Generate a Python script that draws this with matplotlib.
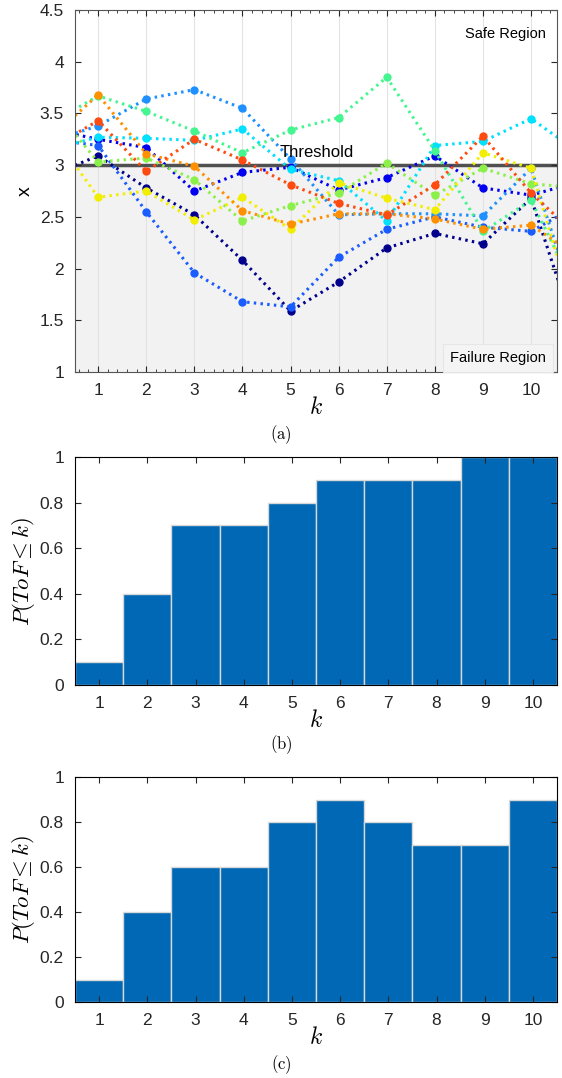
import numpy as np
import matplotlib
matplotlib.use('Agg')
import matplotlib.pyplot as plt
from matplotlib.ticker import MultipleLocator

plt.rcParams['font.family'] = ['Liberation Sans', 'DejaVu Sans']
plt.rcParams['mathtext.fontset'] = 'cm'

# trajectories, k = 0..11 (k=0 and k=11 lie just outside the visible range)
k_traj = np.arange(0, 12)
x_navy   = [2.90, 3.09, 2.78, 2.52, 2.08, 1.59, 1.87, 2.20, 2.34, 2.24, 2.68, 1.27]
x_blue   = [3.35, 3.25, 3.17, 2.75, 2.93, 2.98, 2.76, 2.88, 3.09, 2.78, 2.71, 2.84]
x_azure  = [3.25, 3.19, 2.55, 1.96, 1.68, 1.63, 2.11, 2.38, 2.50, 2.40, 2.36, 2.62]
x_dodger = [3.23, 3.38, 3.64, 3.73, 3.55, 3.06, 2.52, 2.53, 2.53, 2.51, 2.97, 1.54]
x_cyan   = [3.15, 3.27, 3.26, 3.24, 3.35, 2.96, 2.85, 2.46, 3.19, 3.23, 3.45, 3.12]
x_spring = [3.40, 3.67, 3.52, 3.33, 3.12, 3.34, 3.46, 3.85, 3.14, 2.36, 2.66, 1.72]
x_lgreen = [3.59, 3.03, 3.07, 2.86, 2.46, 2.61, 2.73, 3.02, 2.71, 2.97, 2.82, 2.78]
x_yellow = [3.34, 2.69, 2.75, 2.47, 2.69, 2.38, 2.83, 2.68, 2.57, 3.12, 2.97, 1.40]
x_orange = [3.26, 3.68, 3.11, 2.99, 2.56, 2.43, 2.53, 2.53, 2.48, 2.38, 2.42, 2.11]
x_red    = [3.16, 3.43, 2.94, 3.25, 3.05, 2.81, 2.63, 2.52, 2.81, 3.28, 2.73, 2.30]

trajs = [x_navy, x_blue, x_azure, x_dodger, x_cyan,
         x_spring, x_lgreen, x_yellow, x_orange, x_red]
cols = ['#00008c', '#0000f0', '#1a5cff', '#1e90ff', '#00e0ff',
        '#45f590', '#8cf04a', '#f2ee00', '#ff9000', '#ff4a10']
threshold = 3.0

# bar data
k = np.arange(1, 11)
p_b = [0.1, 0.4, 0.7, 0.7, 0.8, 0.9, 0.9, 0.9, 1.0, 1.0]
p_c = [0.1, 0.4, 0.6, 0.6, 0.8, 0.9, 0.8, 0.7, 0.7, 0.9]

fig = plt.figure(figsize=(5.62, 10.78), dpi=100)
ax1 = fig.add_axes([0.1335, 0.6549, 0.8577, 0.3358])
ax2 = fig.add_axes([0.1335, 0.3646, 0.8577, 0.2115])
ax3 = fig.add_axes([0.1335, 0.0705, 0.8577, 0.2087])

# (a)
ax1.axhspan(1, threshold, color='#f2f2f2', zorder=0)
for xv in k:
    ax1.axvline(xv, color='#e2e2e2', lw=0.8, zorder=0.5)
ax1.axhline(threshold, color='#505050', lw=2.5, zorder=1)
for tr, c in zip(trajs, cols):
    ax1.plot(k_traj, tr, color=c, ls=(0, (0.8, 1.4)), lw=2.2,
             marker='o', ms=5, markevery=list(range(1, 11)), zorder=2)
ax1.text(5.55, 3.05, 'Threshold', fontsize=12, ha='center', va='bottom', zorder=3)
ax1.text(10.3, 4.27, 'Safe Region', fontsize=10.5, ha='right', va='center')
ax1.text(10.3, 1.14, 'Failure Region', fontsize=10.5, ha='right', va='center',
         bbox=dict(facecolor='#f4f4f4', edgecolor='#e6e6e6', lw=0.8, pad=5))
ax1.set_xlim(0.52, 10.54)
ax1.set_ylim(1, 4.5)
ax1.set_xticks(k)
ax1.set_yticks(np.arange(1, 4.51, 0.5))
ax1.set_yticklabels(['1', '1.5', '2', '2.5', '3', '3.5', '4', '4.5'])
ax1.xaxis.set_minor_locator(MultipleLocator(0.2))
ax1.tick_params(which='both', direction='in', top=True, right=True,
                labelsize=12.5, colors='#262626', pad=8)
ax1.tick_params(which='major', length=4)
ax1.tick_params(which='minor', length=2)
for s in ax1.spines.values():
    s.set_color('#555555')
ax1.set_ylabel('x', fontsize=14, labelpad=4)
ax1.set_xlabel('$k$', fontsize=17, labelpad=-1)
fig.text(0.5, 0.5964, r'$\mathrm{(a)}$', fontsize=12, ha='center', va='center')

# (b) and (c)
for ax, p, cap, yc in [(ax2, p_b, '(b)', 0.3088), (ax3, p_c, '(c)', 0.0121)]:
    ax.bar(k, p, width=1.0, color='#0068b5', edgecolor='#d8d8d8', lw=1.0)
    ax.set_xlim(0.5, 10.5)
    ax.set_ylim(0, 1)
    ax.set_xticks(k)
    ax.set_yticks(np.arange(0, 1.01, 0.2))
    ax.set_yticklabels(['0', '0.2', '0.4', '0.6', '0.8', '1'])
    ax.tick_params(direction='in', top=True, right=True, length=4,
                   labelsize=12.5, colors='#262626', pad=8)
    ax.set_ylabel(r'$P(ToF \leq k)$', fontsize=16.5, labelpad=2)
    ax.set_xlabel('$k$', fontsize=17, labelpad=-1)
    fig.text(0.5, yc, r'$\mathrm{' + cap + '}$', fontsize=12, ha='center', va='center')

fig.savefig('out.png', dpi=100)
